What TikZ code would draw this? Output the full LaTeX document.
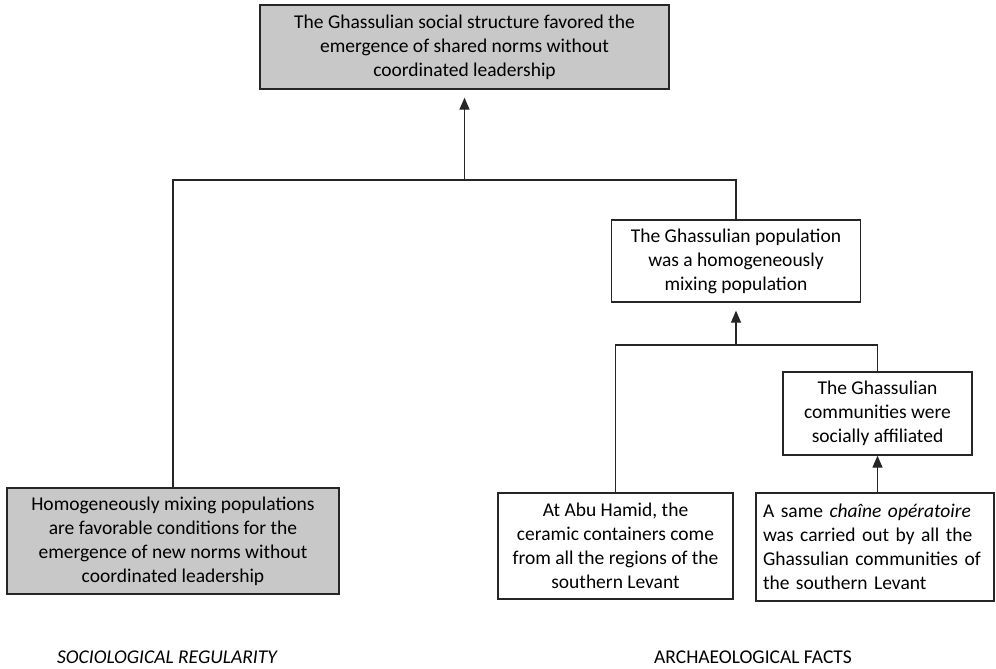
\documentclass[tikz,border=0pt]{standalone}
\usepackage{fontspec}
\setmainfont{Carlito}
\usetikzlibrary{arrows.meta,positioning}
\definecolor{boxgray}{RGB}{200,200,200}

\begin{document}
\begin{tikzpicture}[x=1pt,y=-1pt,
  box/.style={draw=black!85,line width=1.3pt,inner sep=0pt,align=center,
    font=\fontsize{19.5}{24}\selectfont},
  shaded/.style={box,fill=boxgray},
  link/.style={line width=1.3pt,draw=black!85},
  arrow/.style={link,-{Triangle[length=12pt,width=10pt]}}]
\useasboundingbox (0,0) rectangle (996,669);
% claims
\node[shaded,minimum width=409pt,minimum height=84pt] (top) at (464.5,47) {The Ghassulian social structure favored the\\ emergence of shared norms without\\ coordinated leadership};
\node[shaded,minimum width=332pt,minimum height=106pt] (rule) at (173,541) {Homogeneously mixing populations\\ are favorable conditions for the\\ emergence of new norms without\\ coordinated leadership};
\node[box,minimum width=249pt,minimum height=82pt] (mix) at (736,261) {The Ghassulian population\\ was a homogeneously\\ mixing population};
\node[box,minimum width=189pt,minimum height=83pt] (social) at (877.5,413.5) {The Ghassulian\\ communities were\\ socially affiliated};
\node[box,minimum width=235pt,minimum height=106pt] (abu) at (615.5,546) {At Abu Hamid, the\\ ceramic containers come\\ from all the regions of the\\ southern Levant};
\node[box,align=left,text width=224pt,inner xsep=7pt,minimum height=108pt] (chaine) at (875,547) {A same \textit{chaîne opératoire}\\ was carried out by all the\\ Ghassulian communities of\\ the southern Levant};
% captions
\node[font=\fontsize{19.5}{24}\selectfont\itshape] (soclabel) at (167,657) {SOCIOLOGICAL REGULARITY};
\node[font=\fontsize{19.5}{24}\selectfont] (archlabel) at (753,657) {ARCHAEOLOGICAL FACTS};
% connectors
\coordinate (j1) at (464.5,180);
\coordinate (j2) at (736,345);
\draw[link] (rule.north) |- (j1) -| (mix.north);
\draw[arrow,shorten >=8pt] (j1) -- (top.south);
\draw[link] (abu.north) |- (j2) -| (social.north);
\draw[arrow,shorten >=8pt] (j2) -- (mix.south);
\draw[arrow] (chaine.north -| social.south) -- (social.south);
\end{tikzpicture}
\end{document}
